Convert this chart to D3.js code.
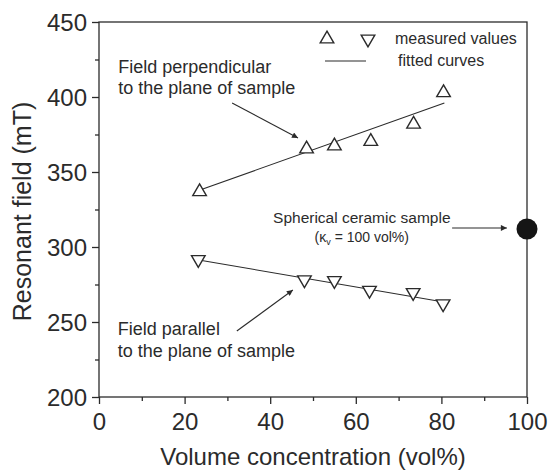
<!DOCTYPE html>
<html>
<head>
<meta charset="utf-8">
<script src="https://cdn.jsdelivr.net/npm/d3@7"></script>
<style>
  body { margin: 0; background: #fff; }
  text { font-family: "Liberation Sans", Arial, sans-serif; fill: #2b2b2b; }
</style>
</head>
<body>
<div id="chart"></div>
<script>
// measured values, field perpendicular to the plane (up triangles)
var perpX = [23.5, 48.5, 55, 63.5, 73.5, 80.5];
var perpY = [337.5, 366, 368, 371, 382.5, 403.5];
// measured values, field parallel to the plane (down triangles)
var parX = [23.2, 48, 55, 63.2, 73.4, 80.4];
var parY = [291, 277.5, 277, 270.5, 269, 261.5];
// fitted lines (end points)
var perpFitX = [23.6, 80.7];
var perpFitY = [338, 396];
var parFitX = [24, 81.2];
var parFitY = [291, 263];
// spherical ceramic sample
var sphereX = [100];
var sphereY = [312];

var xTicks = [0, 20, 40, 60, 80, 100];
var yTicks = [200, 250, 300, 350, 400, 450];

var width = 550, height = 473;
var margin = {left: 99, right: 23, top: 22, bottom: 76};
var ink = "#2b2b2b";

var svg = d3.select("#chart").append("svg")
    .attr("width", width)
    .attr("height", height);

var x = d3.scaleLinear().domain([0, 100]).range([margin.left, width - margin.right]);
var y = d3.scaleLinear().domain([200, 450]).range([height - margin.bottom, margin.top]);

// frame
svg.append("rect")
    .attr("x", x(0)).attr("y", y(450))
    .attr("width", x(100) - x(0)).attr("height", y(200) - y(450))
    .attr("fill", "none").attr("stroke", ink).attr("stroke-width", 1.3);

// x axis
var xMinor = d3.axisBottom(x).tickValues(d3.range(10, 100, 20)).tickSize(4).tickFormat("");
var xAxis = d3.axisBottom(x).tickValues(xTicks).tickSize(7).tickPadding(9);
var gxm = svg.append("g").attr("transform", "translate(0," + y(200) + ")").call(xMinor);
var gx = svg.append("g").attr("transform", "translate(0," + y(200) + ")").call(xAxis);

// y axis
var yMinor = d3.axisLeft(y).tickValues(d3.range(225, 450, 50)).tickSize(4).tickFormat("");
var yAxis = d3.axisLeft(y).tickValues(yTicks).tickSize(7).tickPadding(5);
var gym = svg.append("g").attr("transform", "translate(" + x(0) + ",0)").call(yMinor);
var gy = svg.append("g").attr("transform", "translate(" + x(0) + ",0)").call(yAxis);

[gx, gxm, gy, gym].forEach(function(g) {
    g.select(".domain").remove();
    g.selectAll("line").attr("stroke", ink).attr("stroke-width", 1.3);
    g.selectAll("text").attr("font-size", 24).attr("fill", ink)
        .style("font-family", '"Liberation Sans", Arial, sans-serif');
});
gy.selectAll("text").attr("dy", "0.36em");

// axis titles
svg.append("text")
    .attr("x", (x(0) + x(100)) / 2).attr("y", 465)
    .attr("text-anchor", "middle").attr("font-size", 24)
    .text("Volume concentration (vol%)");

svg.append("text")
    .attr("transform", "translate(31," + ((y(200) + y(450)) / 2 + 2) + ") rotate(-90)")
    .attr("text-anchor", "middle").attr("font-size", 25)
    .text("Resonant field (mT)");

// arrow marker
svg.append("defs").append("marker")
    .attr("id", "arr").attr("viewBox", "0 0 10 10")
    .attr("refX", 10).attr("refY", 5)
    .attr("markerWidth", 9).attr("markerHeight", 6)
    .attr("markerUnits", "userSpaceOnUse")
    .attr("orient", "auto")
  .append("path").attr("d", "M0,0 L10,5 L0,10 Z").attr("fill", ink);

// fitted lines
var line = d3.line().x(function(d) { return x(d[0]); }).y(function(d) { return y(d[1]); });
svg.append("path").datum(d3.zip(perpFitX, perpFitY))
    .attr("d", line).attr("fill", "none").attr("stroke", ink).attr("stroke-width", 1.1);
svg.append("path").datum(d3.zip(parFitX, parFitY))
    .attr("d", line).attr("fill", "none").attr("stroke", ink).attr("stroke-width", 1.1);

// markers
var tri = d3.symbol().type(d3.symbolTriangle).size(80);
svg.selectAll(".up").data(d3.zip(perpX, perpY)).enter().append("path")
    .attr("class", "up")
    .attr("d", tri)
    .attr("transform", function(d) { return "translate(" + x(d[0]) + "," + (y(d[1]) + 1) + ")"; })
    .attr("fill", "#fff").attr("stroke", ink).attr("stroke-width", 1.4);
svg.selectAll(".down").data(d3.zip(parX, parY)).enter().append("path")
    .attr("class", "down")
    .attr("d", tri)
    .attr("transform", function(d) { return "translate(" + x(d[0]) + "," + (y(d[1]) - 1) + ") rotate(180)"; })
    .attr("fill", "#fff").attr("stroke", ink).attr("stroke-width", 1.4);

svg.selectAll(".sphere").data(d3.zip(sphereX, sphereY)).enter().append("circle")
    .attr("class", "sphere")
    .attr("cx", function(d) { return x(d[0]); })
    .attr("cy", function(d) { return y(d[1]); })
    .attr("r", 10.5).attr("fill", "#151515");

// annotations (positions in data units)
function label(lines, px, py, size, anchor) {
    var t = svg.append("text").attr("font-size", size).attr("text-anchor", anchor || "start");
    lines.forEach(function(s, i) {
        t.append("tspan").attr("x", x(px)).attr("y", y(py[i])).text(s);
    });
    return t;
}
function arrow(x0, y0, x1, y1) {
    svg.append("line")
        .attr("x1", x(x0)).attr("y1", y(y0)).attr("x2", x(x1)).attr("y2", y(y1))
        .attr("stroke", ink).attr("stroke-width", 1.1)
        .attr("marker-end", "url(#arr)");
}

label(["Field perpendicular", "to the plane of sample"], 4.5, [416.2, 402.3], 18);
arrow(31.1, 396, 46.5, 372.7);

label(["Field parallel", "to the plane of sample"], 4.4, [241.3, 226.9], 18);
arrow(32.2, 244, 45.3, 271.3);

var sph = svg.append("text").attr("font-size", 15.5).attr("text-anchor", "middle");
sph.append("tspan").attr("x", x(61.4)).attr("y", y(315.8)).text("Spherical ceramic sample");
var sph2 = svg.append("text").attr("font-size", 14).attr("text-anchor", "middle")
    .attr("x", x(61.4)).attr("y", y(303.5));
sph2.append("tspan").text("(\u03ba");
sph2.append("tspan").attr("font-size", 9).attr("dy", 3).text("v");
sph2.append("tspan").attr("dy", -3).text(" = 100 vol%)");
arrow(82.5, 312.7, 95.3, 312.7);

// legend
var lg = svg.append("g");
lg.append("path").attr("d", tri)
    .attr("transform", "translate(327,39)")
    .attr("fill", "#fff").attr("stroke", ink).attr("stroke-width", 1.4);
lg.append("path").attr("d", tri)
    .attr("transform", "translate(368,39) rotate(180)")
    .attr("fill", "#fff").attr("stroke", ink).attr("stroke-width", 1.4);
lg.append("line").attr("x1", 325).attr("x2", 366).attr("y1", 61).attr("y2", 61)
    .attr("stroke", ink).attr("stroke-width", 1.1);
lg.append("text").attr("x", 395).attr("y", 44).attr("font-size", 16).text("measured values");
lg.append("text").attr("x", 398).attr("y", 66).attr("font-size", 16).text("fitted curves");
</script>
</body>
</html>
